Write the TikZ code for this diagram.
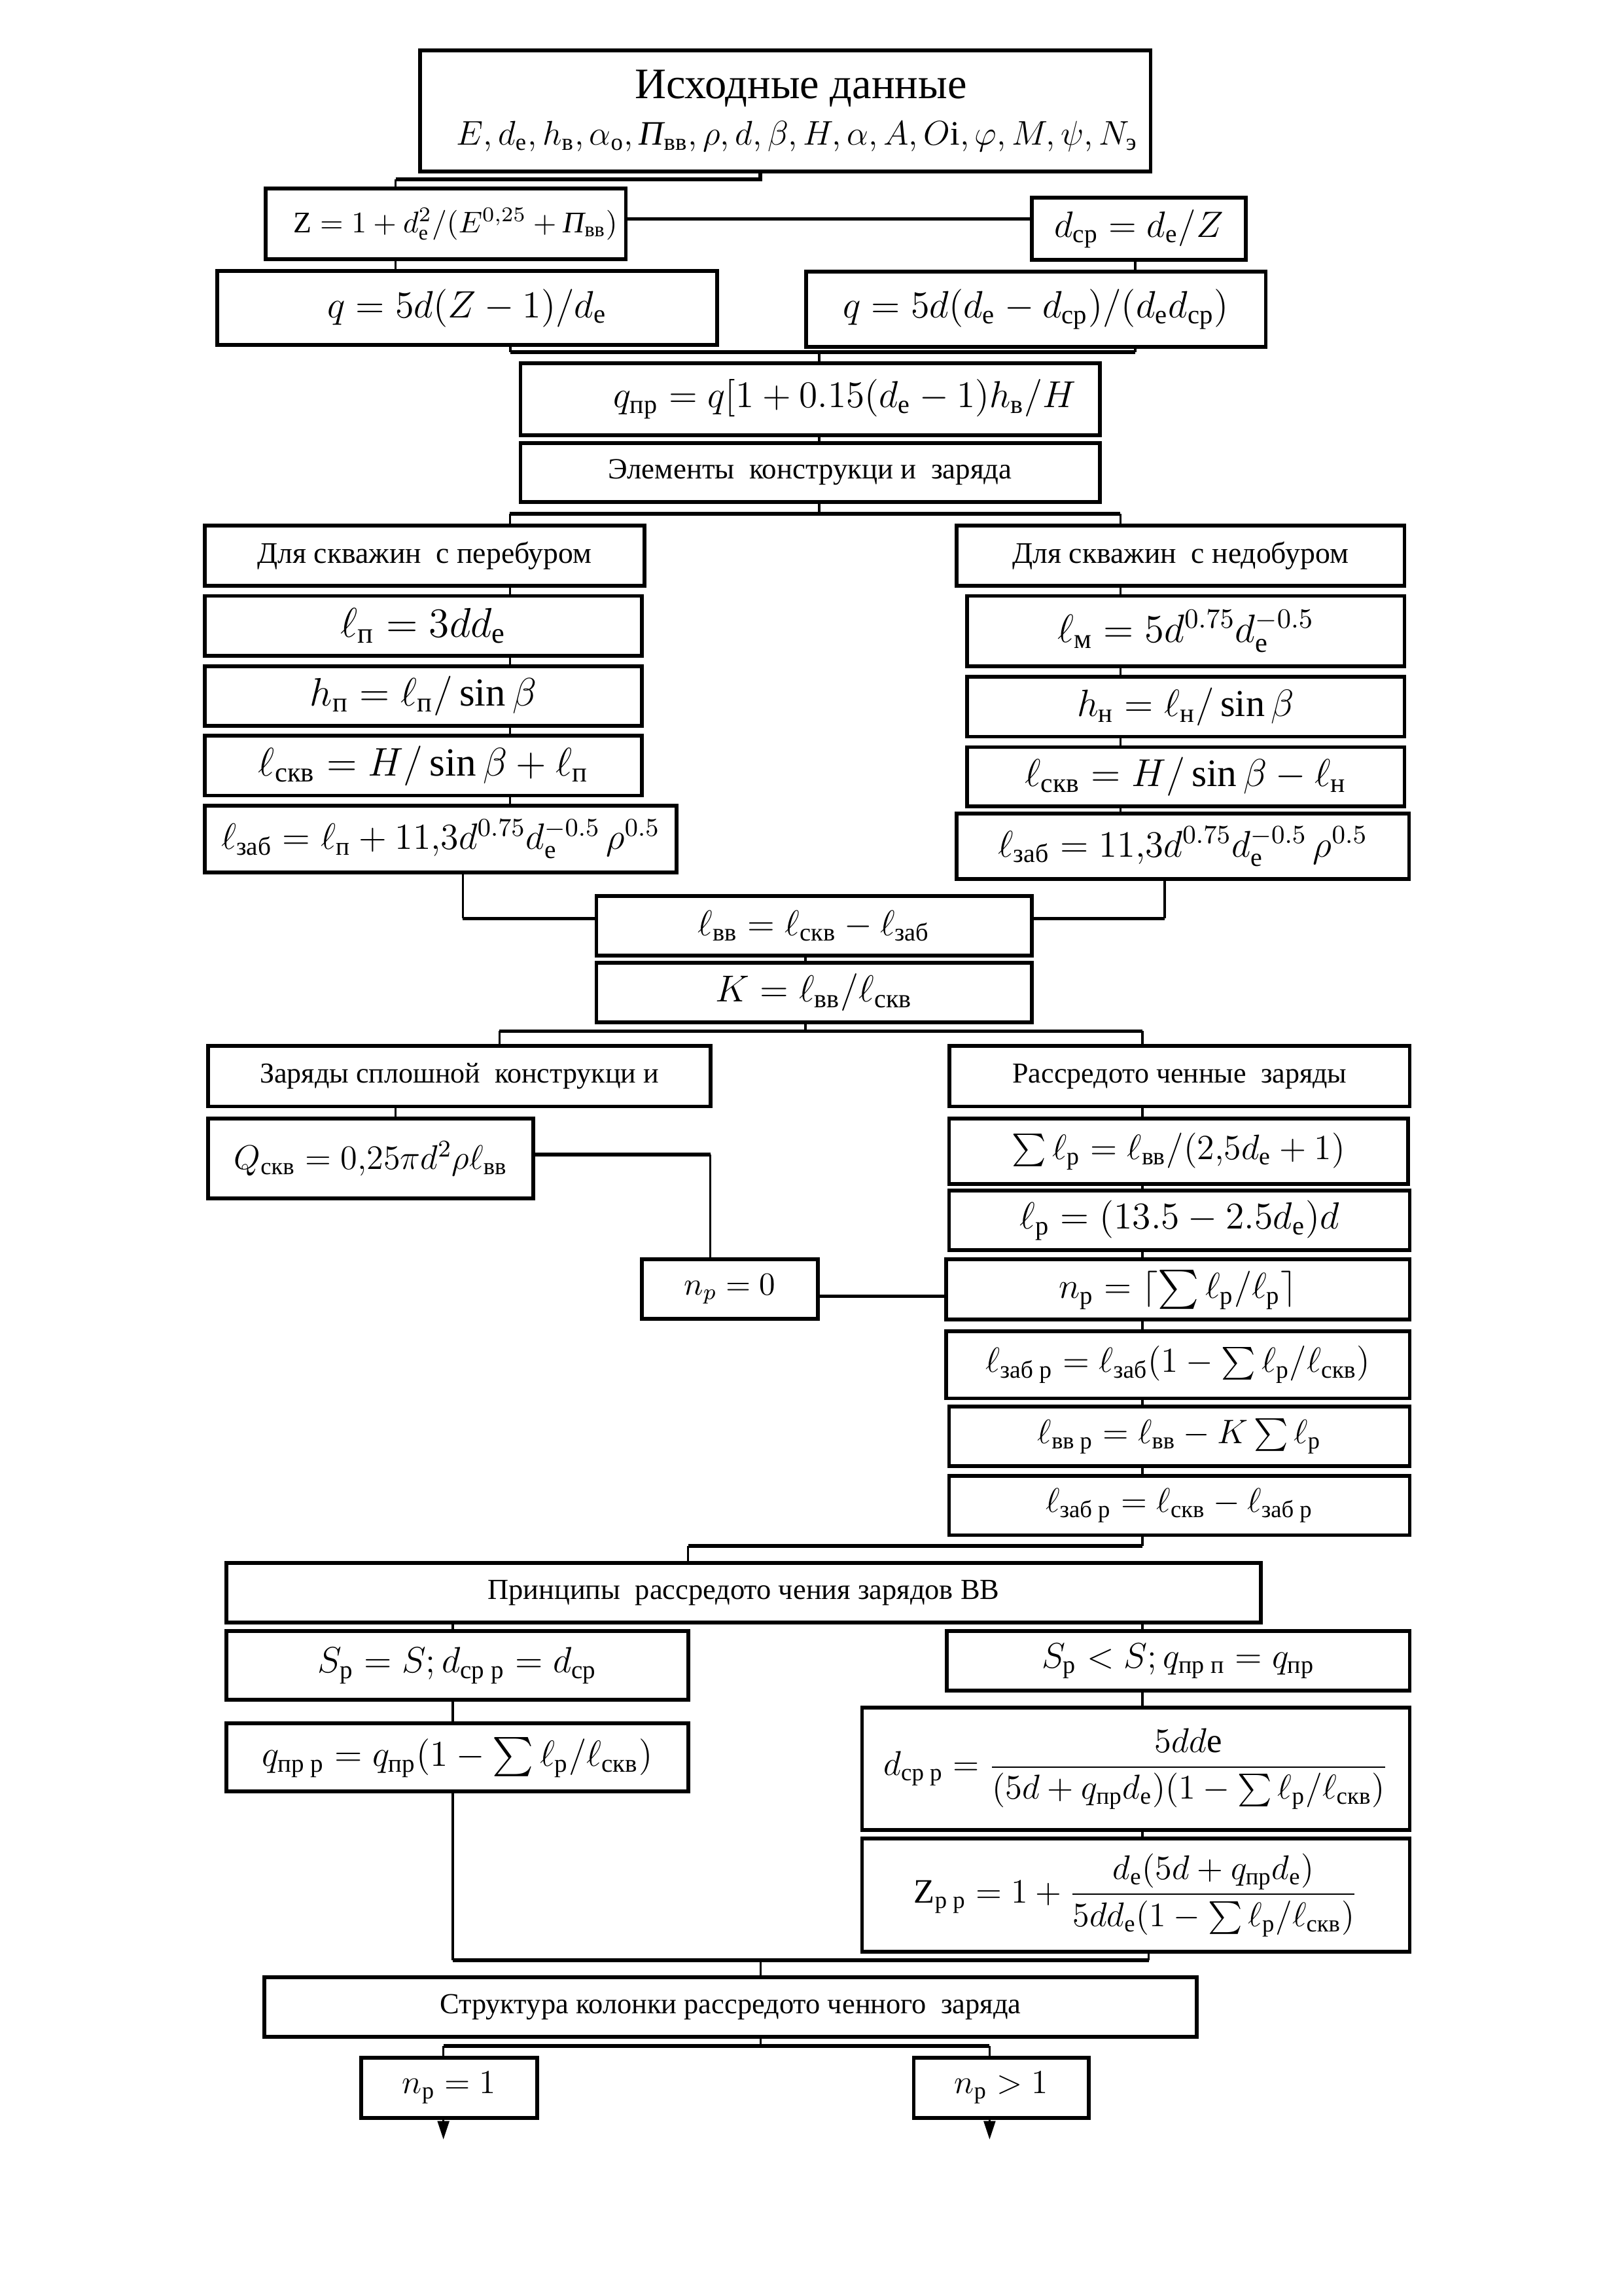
\RequirePackage{fix-cm}
\documentclass[tikz,border=0pt]{standalone}
\usepackage{amsmath}
\usepackage{fontspec}
\setmainfont{Liberation Serif}
\usetikzlibrary{arrows.meta}
\newcommand\su[1]{_{\text{#1}}}
\newcommand\Pvv{\text{\itshape П}}
\newcommand\bx[7][]{\node[blk,#1,minimum width={(#5-#3)*0.019091cm},minimum height={(#6-#4)*0.019091cm}] (#2) at ({(#3+#5)/2},{(#4+#6)/2}) {#7};}
\begin{document}
\begin{tikzpicture}[x=0.019091cm,y=-0.019091cm,
  blk/.style={draw, line width=1.4pt, inner sep=0pt, align=center},
  fz/.style={font=\fontsize{#1}{#1}\selectfont},
  conn/.style={line width=0.8pt},
  tconn/.style={line width=1.3pt}]
\useasboundingbox[fill=white] (0,0) rectangle (1100,1555);

% ---------- boxes ----------
\bx{top}{284.6}{34}{779.5}{116.2}{\hspace*{0.4cm}{\fontsize{16}{18}\selectfont Исходные данные}\\[5pt]\hspace*{0.3cm}{\fontsize{12.6}{14}\selectfont $E, d\su{e}, h\su{в}, \alpha\su{о}, \Pvv\su{вв}, \rho, d, \beta, H, \alpha, A, O\text{i}, \varphi, M, \psi, N\su{э}$}}
\bx[fz=11]{Z}{180}{127.8}{424}{175.6}{\hspace*{0.25cm}$\mathrm{Z} = 1 + d\su{e}^{2}/(E^{0{,}25} + \Pvv\su{вв})$}
\bx[fz=13.5]{dcp}{699}{133.8}{844}{176}{$d\su{ср} = d\su{e}/Z$}
\bx[fz=14]{qL}{147}{183.6}{486}{233.6}{$q = 5d(Z-1)/d\su{e}$}
\bx[fz=14]{qR}{546}{184}{857.5}{235}{$q = 5d(d\su{e} - d\su{ср})/(d\su{e}d\su{ср})$}
\bx[fz=13.8]{qpr}{352.6}{246}{745}{294.8}{\hspace*{0.9cm}$q\su{пр} = q[1 + 0.15(d\su{e} - 1)h\su{в}/H$}
\bx[fz=10.8]{elem}{352.6}{300}{745}{340}{Элементы\ \ конструкци и\ \ заряда}
\bx[fz=11]{per}{138.6}{356}{436.7}{396.8}{Для скважин\ \ с перебуром}
\bx[fz=11]{ned}{648}{356}{951.5}{396.8}{Для скважин\ \ с недобуром}
\bx[fz=15.3]{lp}{138.6}{403.6}{435}{444}{$\ell\su{п} = 3dd\su{e}$}
\bx[fz=14.6]{hp}{138.6}{451.4}{435}{491.4}{$h\su{п} = \ell\su{п}/\sin\beta$}
\bx[fz=14.7]{lsk}{138.6}{498.4}{435}{538.8}{$\ell\su{скв} = H/\sin\beta + \ell\su{п}$}
\bx[fz=13.5]{lzab}{138.6}{545.6}{458.4}{590.9}{$\ell\su{заб} = \ell\su{п} + 11{,}3d^{0.75}d\su{e}^{-0.5}\,\rho^{0.5}$}
\bx[fz=14.6]{lm}{655}{403.6}{951.5}{451.4}{$\ell\su{м} = 5d^{0.75}d\su{e}^{-0.5}$}
\bx[fz=14]{hn}{655}{458.4}{951.5}{498.9}{$h\su{н} = \ell\su{н}/\sin\beta$}
\bx[fz=14.3]{lskR}{655}{506}{951.5}{546}{$\ell\su{скв} = H/\sin\beta - \ell\su{н}$}
\bx[fz=13.7]{lzabR}{648}{551}{954.6}{595.4}{$\ell\su{заб} = 11{,}3d^{0.75}d\su{e}^{-0.5}\,\rho^{0.5}$}
\bx[fz=13.2]{lvv}{404}{607}{699}{647.3}{$\ell\su{вв} = \ell\su{скв} - \ell\su{заб}$}
\bx[fz=13.8]{K}{404}{652}{699}{692.4}{$K = \ell\su{вв}/\ell\su{скв}$}
\bx[fz=10.6]{zar}{141}{708.5}{481.3}{749.3}{Заряды сплошной\ \ конструкци и}
\bx[fz=10.6]{ras}{643.3}{708.5}{955}{749.3}{Рассредото ченные\ \ заряды}
\bx[fz=12.6]{Q}{141}{757.6}{361.4}{811.8}{$Q\su{скв} = 0{,}25\pi d^2\rho\ell\su{вв}$}
\bx[fz=13]{sum}{643}{757.6}{954}{802}{$\sum\ell\su{р} = \ell\su{вв}/(2{,}5d\su{e} + 1)$}
\bx[fz=13.9]{lr}{643}{806.3}{955}{846.5}{$\ell\su{р} = (13.5 - 2.5d\su{e})d$}
\bx[fz=11.8]{np0}{435}{853}{554}{893}{$n_p = 0$}
\bx[fz=13.3]{npc}{641}{853}{955}{893.8}{$n\su{р} = \lceil\sum\ell\su{р}/\ell\su{р}\rceil$}
\bx[fz=12.9]{lzr}{641}{901.5}{955}{947}{$\ell\su{заб р} = \ell\su{заб}(1 - \sum\ell\su{р}/\ell\su{скв})$}
\bx[fz=12.5]{lvr}{643}{952.4}{955}{992.8}{$\ell\su{вв р} = \ell\su{вв} - K\sum\ell\su{р}$}
\bx[fz=12.6]{lzr2}{643}{999.4}{955}{1039.7}{$\ell\su{заб р} = \ell\su{скв} - \ell\su{заб р}$}
\bx[fz=10.7]{prin}{153.5}{1058.4}{854}{1098.8}{Принципы\ \ рассредото чения зарядов ВВ}
\bx[fz=13.4]{spS}{153.5}{1104.7}{466.2}{1151.3}{$S\su{р} = S; d\su{ср р} = d\su{ср}$}
\bx[fz=13.1]{spL}{641.5}{1104.7}{955}{1145}{$S\su{р} < S; q\su{пр п} = q\su{пр}$}
\bx[fz=13.4]{qprr}{153.5}{1167}{466.2}{1213.4}{$q\su{пр р} = q\su{пр}(1 - \sum\ell\su{р}/\ell\su{скв})$}
\bx[fz=12.7]{dcpp}{584}{1156.4}{955}{1239.5}{$d\su{ср р} = \dfrac{5dd\text{e}}{(5d + q\su{пр}d\su{e})(1 - \sum\ell\su{р}/\ell\su{скв})}$}
\bx[fz=12.6]{zpp}{584}{1245.3}{955}{1321.7}{$\mathrm{Z}\su{р р} = 1 + \dfrac{d\su{e}(5d + q\su{пр}d\su{e})}{5dd\su{e}(1 - \sum\ell\su{р}/\ell\su{скв})}$}
\bx[fz=10.7]{str}{179}{1339.2}{810.7}{1379.3}{Структура колонки рассредото ченного\ \ заряда}
\bx[fz=12.4]{np1}{244.7}{1393.5}{364}{1434.3}{$n\su{р} = 1$}
\bx[fz=12.4]{npg}{619}{1393.5}{737.7}{1434.3}{$n\su{р} > 1$}

% ---------- junction points ----------
\coordinate (j1) at (515,121.5);
\coordinate (j2) at (268,121.5);
\coordinate (j3) at (0,148.2);
\coordinate (j4) at (769,0);
\coordinate (j5) at (345.8,238.5);
\coordinate (j6) at (769,238.5);
\coordinate (j7) at (555,238.5);
\coordinate (j8) at (555,348);
\coordinate (j9) at (345.4,348);
\coordinate (j10) at (759,348);
\coordinate (j11) at (313.5,622);
\coordinate (j12) at (789,622);
\coordinate (j13) at (545.6,698.3);
\coordinate (j14) at (338.3,698.3);
\coordinate (j15) at (774,698.3);
\coordinate (j16) at (268,0);
\coordinate (j17) at (481.3,782);
\coordinate (j18) at (0,878);
\coordinate (j19) at (774,1047);
\coordinate (j20) at (466.2,1047);
\coordinate (j21) at (306.8,0);
\coordinate (j22) at (306.8,1327.6);
\coordinate (j23) at (778.3,1327.6);
\coordinate (j24) at (515.3,1327.6);
\coordinate (j25) at (515.3,1385.6);
\coordinate (j26) at (300.4,1385.6);
\coordinate (j27) at (670.4,1385.6);
\coordinate (e1) at (300.4,1449);
\coordinate (e2) at (670.4,1449);

% ---------- connectors ----------
\draw[tconn] (top.south -| j1) -- (j1) -- (j2);
\draw[conn] (j2) -- (Z.north -| j2);
\draw[tconn] (Z.east |- j3) -- (dcp.west |- j3);
\draw[conn] (Z.south -| j2) -- (qL.north -| j2);
\draw[conn] (dcp.south -| j4) -- (qR.north -| j4);
\draw[conn] (qL.south -| j5) -- (j5);
\draw[conn] (qR.south -| j6) -- (j6);
\draw[tconn] (j5) -- (j6);
\draw[conn] (j7) -- (qpr.north -| j7);
\draw[conn] (qpr.south -| j7) -- (elem.north -| j7);
\draw[conn] (elem.south -| j8) -- (j8);
\draw[tconn] (j9) -- (j10);
\draw[conn] (j9) -- (per.north -| j9);
\draw[conn] (j10) -- (ned.north -| j10);
\foreach \a/\b in {per/lp, lp/hp, hp/lsk, lsk/lzab}
  \draw[conn] (\a.south -| j9) -- (\b.north -| j9);
\foreach \a/\b in {ned/lm, lm/hn, hn/lskR, lskR/lzabR}
  \draw[conn] (\a.south -| j10) -- (\b.north -| j10);
\draw[conn] (lzab.south -| j11) -- (j11);
\draw[tconn] (j11) -- (lvv.west |- j11);
\draw[conn] (lzabR.south -| j12) -- (j12);
\draw[tconn] (j12) -- (lvv.east |- j12);
\draw[conn] (lvv.south -| j13) -- (K.north -| j13);
\draw[conn] (K.south -| j13) -- (j13);
\draw[tconn] (j14) -- (j15);
\draw[conn] (j14) -- (zar.north -| j14);
\draw[conn] (j15) -- (ras.north -| j15);
\draw[conn] (zar.south -| j16) -- (Q.north -| j16);
\draw[tconn] (Q.east |- j17) -- (j17);
\draw[conn] (j17) -- (np0.north -| j17);
\draw[tconn] (np0.east |- j18) -- (npc.west |- j18);
\foreach \a/\b in {ras/sum, sum/lr, lr/npc, npc/lzr, lzr/lvr, lvr/lzr2}
  \draw[conn] (\a.south -| j15) -- (\b.north -| j15);
\draw[conn] (lzr2.south -| j19) -- (j19);
\draw[tconn] (j19) -- (j20);
\draw[conn] (j20) -- (prin.north -| j20);
\draw[conn] (prin.south -| j21) -- (spS.north -| j21);
\draw[conn] (prin.south -| j19) -- (spL.north -| j19);
\draw[conn] (spS.south -| j21) -- (qprr.north -| j21);
\draw[conn] (spL.south -| j19) -- (dcpp.north -| j19);
\draw[conn] (dcpp.south -| j19) -- (zpp.north -| j19);
\draw[conn] (qprr.south -| j22) -- (j22);
\draw[conn] (zpp.south -| j23) -- (j23);
\draw[tconn] (j22) -- (j23);
\draw[conn] (j24) -- (str.north -| j24);
\draw[conn] (str.south -| j25) -- (j25);
\draw[tconn] (j26) -- (j27);
\draw[conn] (j26) -- (np1.north -| j26);
\draw[conn] (j27) -- (npg.north -| j27);
\draw[conn, -{Triangle[length=2.4mm,width=1.5mm]}] (np1.south -| e1) -- (e1);
\draw[conn, -{Triangle[length=2.4mm,width=1.5mm]}] (npg.south -| e2) -- (e2);
\end{tikzpicture}
\end{document}
